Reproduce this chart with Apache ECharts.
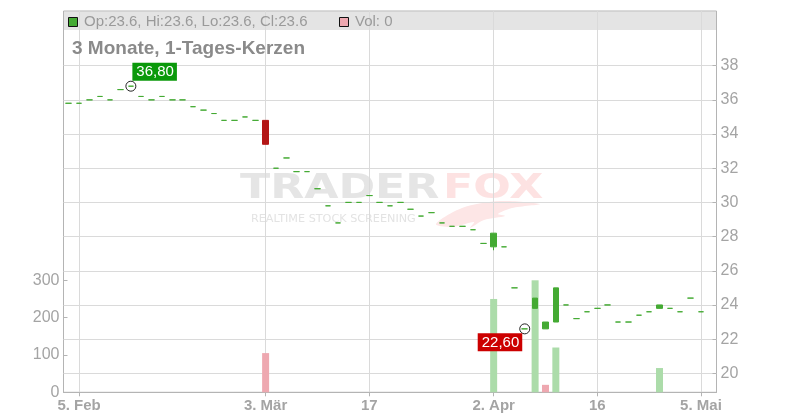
<!DOCTYPE html>
<html><head><meta charset="utf-8">
<script src="https://cdn.jsdelivr.net/npm/echarts@6/dist/echarts.min.js"></script>
<style>html,body{margin:0;padding:0;background:#fff}#c{width:800px;height:420px}</style>
</head><body><div id="c"></div>
<script>
// ---- data ----
const dates = [
 '2026-02-04','2026-02-05','2026-02-06','2026-02-09','2026-02-10','2026-02-11','2026-02-12','2026-02-13','2026-02-16','2026-02-17',
 '2026-02-18','2026-02-19','2026-02-20','2026-02-23','2026-02-24','2026-02-25','2026-02-26','2026-02-27','2026-03-02','2026-03-03',
 '2026-03-04','2026-03-05','2026-03-06','2026-03-09','2026-03-10','2026-03-11','2026-03-12','2026-03-13','2026-03-16','2026-03-17',
 '2026-03-18','2026-03-19','2026-03-20','2026-03-23','2026-03-24','2026-03-25','2026-03-26','2026-03-27','2026-03-30','2026-03-31',
 '2026-04-01','2026-04-02','2026-04-03','2026-04-06','2026-04-07','2026-04-08','2026-04-09','2026-04-10','2026-04-13','2026-04-14',
 '2026-04-15','2026-04-16','2026-04-17','2026-04-20','2026-04-21','2026-04-22','2026-04-23','2026-04-24','2026-04-27','2026-04-28',
 '2026-04-30','2026-05-05'
];
const open = [
 35.8,35.8,36.0,36.2,36.0,36.6,36.8,36.2,36.0,36.2,
 36.0,36.0,35.6,35.4,35.2,34.8,34.8,35.0,34.8,34.8,
 32.0,32.6,31.8,31.8,30.8,29.8,28.8,30.0,30.0,30.4,
 30.0,29.8,30.0,29.6,29.2,29.4,28.8,28.6,28.6,28.4,
 27.6,27.4,27.4,25.0,22.6,23.8,22.6,23.0,24.0,23.2,
 23.6,23.8,24.0,23.0,23.0,23.4,23.6,23.8,23.8,23.6,
 24.4,23.6
];
const close = [
 35.8,35.8,36.0,36.2,36.0,36.6,36.8,36.2,36.0,36.2,
 36.0,36.0,35.6,35.4,35.2,34.8,34.8,35.0,34.8,33.4,
 32.0,32.6,31.8,31.8,30.8,29.8,28.8,30.0,30.0,30.4,
 30.0,29.8,30.0,29.6,29.2,29.4,28.8,28.6,28.6,28.4,
 27.6,28.2,27.4,25.0,22.6,24.4,23.0,25.0,24.0,23.2,
 23.6,23.8,24.0,23.0,23.0,23.4,23.6,24.0,23.8,23.6,
 24.4,23.6
];
const low = [
 35.8,35.8,36.0,36.2,36.0,36.6,36.8,36.2,36.0,36.2,
 36.0,36.0,35.6,35.4,35.2,34.8,34.8,35.0,34.8,33.4,
 32.0,32.6,31.8,31.8,30.8,29.8,28.8,30.0,30.0,30.4,
 30.0,29.8,30.0,29.6,29.2,29.4,28.8,28.6,28.6,28.4,
 27.6,27.2,27.4,25.0,22.6,23.8,22.6,23.0,24.0,23.2,
 23.6,23.8,24.0,23.0,23.0,23.4,23.6,23.8,23.8,23.6,
 24.4,23.6
];
const high = [
 35.8,35.8,36.0,36.2,36.0,36.6,36.8,36.2,36.0,36.2,
 36.0,36.0,35.6,35.4,35.2,34.8,34.8,35.0,34.8,34.8,
 32.0,32.6,31.8,31.8,30.8,29.8,28.8,30.0,30.0,30.4,
 30.0,29.8,30.0,29.6,29.2,29.4,28.8,28.6,28.6,28.4,
 27.6,28.2,27.4,25.0,22.6,24.4,23.0,25.0,24.0,23.2,
 23.6,23.8,24.0,23.0,23.0,23.4,23.6,24.0,23.8,23.6,
 24.4,23.6
];
const volume = [
 0,0,0,0,0,0,0,0,0,0,
 0,0,0,0,0,0,0,0,0,105,
 0,0,0,0,0,0,0,0,0,0,
 0,0,0,0,0,0,0,0,0,0,
 0,250,0,0,0,300,20,120,0,0,
 0,0,0,0,0,0,0,65,0,0,
 0,0
];
const tickIdx = [1,19,29,41,51,61];
const tickLabels = ['5. Feb','3. Mär','17','2. Apr','16','5. Mai'];
const titleText = '3 Monate, 1-Tages-Kerzen';

// ---- derived ----
const cats = dates.concat(['']);
const candles = open.map((o,i)=>[o, close[i], low[i], high[i]]);
let maxI = 0, minI = 0;
high.forEach((h,i)=>{ if (h > high[maxI]) maxI = i; });
low.forEach((l,i)=>{ if (l < low[minI]) minI = i; });
const fmt = v => v.toFixed(2).replace('.', ',');
const last = candles.length - 1;
const readout = 'Op:' + open[last] + ', Hi:' + high[last] + ', Lo:' + low[last] + ', Cl:' + close[last];
const volText = 'Vol: ' + volume[last];
const isTick = (i) => tickIdx.indexOf(i) >= 0;

const FF = 'Liberation Sans, Arial, sans-serif';
const GREEN = '#44aa33', RED = '#b31616';
const AX = '#b4b4b4', GRIDC = '#dadada', LBL = '#a4a4a4';
const L = 63.5, W = 653;

const chart = echarts.init(document.getElementById('c'), null, {renderer: 'canvas'});
chart.setOption({
  animation: false,
  textStyle: {fontFamily: FF},
  title: {text: titleText, left: 72, top: 39, padding: 0,
    textStyle: {fontSize: 19, fontWeight: 'bold', color: '#8a8a8a', fontFamily: FF}},
  grid: [
    {left: L, width: W, top: 11, height: 381.3, show: true, borderColor: AX, borderWidth: 1, backgroundColor: 'transparent'},
    {left: L, width: W, top: 31.5, height: 341.8},
    {left: L, width: W, top: 280.3, height: 112}
  ],
  xAxis: [
    {gridIndex: 0, type: 'category', data: cats, boundaryGap: true,
      axisLine: {show: true, lineStyle: {color: AX}},
      axisTick: {show: true, alignWithLabel: true, interval: isTick, length: 4, lineStyle: {color: AX}},
      axisLabel: {interval: isTick, formatter: (v, i) => tickLabels[tickIdx.indexOf(i)] || '',
        color: LBL, fontSize: 15, fontWeight: 'bold', fontFamily: FF, margin: 6},
      splitLine: {show: true, interval: isTick, alignWithLabel: true, lineStyle: {color: GRIDC, width: 1}}},
    {gridIndex: 1, type: 'category', data: cats, boundaryGap: true, show: false},
    {gridIndex: 2, type: 'category', data: cats, boundaryGap: true, show: false}
  ],
  yAxis: [
    {gridIndex: 0, type: 'value', show: false, min: 0, max: 1, splitLine: {show: false}},
    {gridIndex: 1, type: 'value', position: 'right', min: 20, max: 40, interval: 2,
      axisLine: {show: false},
      axisTick: {show: true, inside: true, length: 4, lineStyle: {color: AX}},
      axisLabel: {color: LBL, fontSize: 16, margin: 4, showMaxLabel: false, fontFamily: FF, padding: [4, 0, 0, 0]},
      splitLine: {show: true, showMaxLine: false, lineStyle: {color: GRIDC}}},
    {gridIndex: 2, type: 'value', position: 'left', min: 0, max: 300, interval: 100,
      axisLine: {show: false},
      axisTick: {show: true, inside: true, length: 4, lineStyle: {color: AX}},
      axisLabel: {color: LBL, fontSize: 16, margin: 4, fontFamily: FF, padding: [4, 0, 0, 0]},
      splitLine: {show: false}}
  ],
  graphic: [
    {type: 'rect', z: -10, shape: {x: L, y: 11.5, width: W, height: 18.5}, style: {fill: '#e4e4e4'}},
    {type: 'rect', z: 5, shape: {x: 68.5, y: 17.5, width: 9, height: 9}, style: {fill: GREEN, stroke: '#111', lineWidth: 1}},
    {type: 'text', z: 5, x: 84, y: 22, style: {text: readout, fill: '#9a9a9a', font: '15px ' + FF, verticalAlign: 'middle'}},
    {type: 'rect', z: 5, shape: {x: 339.5, y: 17.5, width: 9, height: 9}, style: {fill: '#eea8b0', stroke: '#111', lineWidth: 1}},
    {type: 'text', z: 5, x: 355, y: 22, style: {text: volText, fill: '#9a9a9a', font: '15px ' + FF, verticalAlign: 'middle'}},
    // watermark
    {type: 'text', z: -5, x: 240, y: 189, scaleX: 1.3, style: {text: 'TRADER', fill: '#e5e5e5', font: 'bold 34px DejaVu Sans', verticalAlign: 'middle'}},
    {type: 'text', z: -5, x: 443, y: 189, scaleX: 1.3, style: {text: 'FOX', fill: '#fde2e2', font: 'bold 34px DejaVu Sans', verticalAlign: 'middle'}},
    {type: 'text', z: -5, x: 251, y: 219, scaleX: 1.12, style: {text: 'REALTIME STOCK SCREENING', fill: '#e3e3e3', font: '10px DejaVu Sans', verticalAlign: 'middle'}},
    {type: 'polygon', z: -6, shape: {smooth: 0.3, points: [[436,224],[462,208],[500,201],[540,204],[512,208],[498,214],[505,216],[484,220],[470,228],[474,222],[452,227]]}, style: {fill: '#fde6e6'}}
  ],
  series: [
    {type: 'bar', xAxisIndex: 2, yAxisIndex: 2, barWidth: 7, z: 1, silent: true,
      data: volume.map((v, i) => ({value: v, itemStyle: {color: (i > 0 && close[i] < close[i-1]) ? '#eea8b0' : '#acdcaa'}}))},
    {type: 'candlestick', xAxisIndex: 1, yAxisIndex: 1, barWidth: 6, z: 3, silent: true,
      data: candles,
      itemStyle: {color: GREEN, color0: RED, borderColor: GREEN, borderColor0: RED, borderColorDoji: GREEN, borderWidth: 1},
      markPoint: {
        symbol: 'circle', symbolSize: 10, silent: true,
        itemStyle: {color: 'rgba(255,255,255,0)', borderColor: '#222', borderWidth: 1},
        data: [
          {coord: [maxI, high[maxI]], value: high[maxI],
            label: {show: true, formatter: fmt(high[maxI]), position: [7, -18], align: 'left', verticalAlign: 'top',
              backgroundColor: '#0a990a', color: '#fff', fontSize: 15, lineHeight: 16, padding: [1, 3, 1, 4], fontFamily: FF}},
          {coord: [minI, low[minI]], value: low[minI],
            label: {show: true, formatter: fmt(low[minI]), position: [3, 10], align: 'right', verticalAlign: 'top',
              backgroundColor: '#cc0000', color: '#fff', fontSize: 15, lineHeight: 16, padding: [1, 3, 1, 4], fontFamily: FF}}
        ]
      }}
  ]
});
</script></body></html>
